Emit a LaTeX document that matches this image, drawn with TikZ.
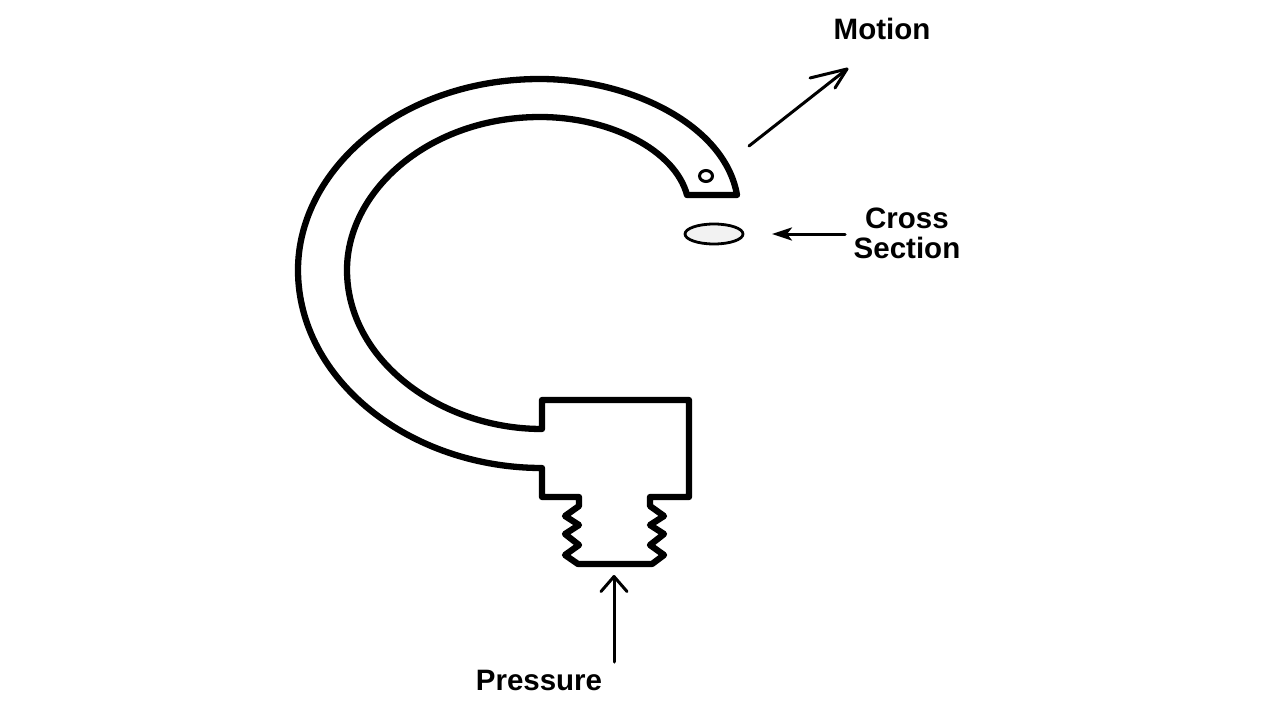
\documentclass[tikz,border=0pt]{standalone}
\usepackage{fontspec}
\setmainfont{Liberation Sans}
\usetikzlibrary{arrows.meta,shapes.geometric}
\tikzset{
  x=1pt,y=-1pt,
  part/.style={draw=black,line width=6.3pt,line join=round,line cap=round},
  pointer line/.style={draw=black,line width=3pt,line cap=round,line join=round},
  pointer/.style={pointer line,-{Straight Barb[length=15pt,width=26pt,line width=3pt,round]}},
  pointer small/.style={pointer line,-{Stealth[length=20pt,width=13pt,inset=5pt]}},
  caption/.style={font=\bfseries\fontsize{29.5}{30}\selectfont,align=center,inner sep=0pt,text=black},
  section oval/.style={ellipse,draw=black,line width=2.8pt,fill=black!5,minimum width=58pt,minimum height=20pt,inner sep=0pt},
  hole/.style={ellipse,draw=black,line width=3pt,minimum width=13pt,minimum height=11pt,inner sep=0pt},
}
\begin{document}
\begin{tikzpicture}
\useasboundingbox (0,0) rectangle (1280,720);
\draw[part] (737,195) -- (687,195)
  .. controls (675,150) and (610,117) .. (540,117)
  .. controls (430,117) and (347,190) .. (347,270)
  .. controls (347,360) and (440,429) .. (542,429)
  -- (542,400) -- (689,400) -- (689,497) -- (650,497) -- (650,506)
  -- (664,516) -- (650,525) -- (664,534) -- (650,545) -- (664,555) -- (652,564) -- (578,564)
  -- (565,555) -- (579,545) -- (565,534) -- (579,525) -- (565,516) -- (579,506) -- (579,497)
  -- (542,497) -- (542,468)
  .. controls (410,468) and (298,380) .. (298,270)
  .. controls (298,170) and (400,79) .. (540,79)
  .. controls (630,79) and (725,125) .. (737,195) -- cycle;
\node[hole] (pin) at (706,176) {};
\node[section oval] (oval) at (714,234) {};
\node[caption] (motion) at (882,29) {Motion};
\node[caption] (cross) at (907,218) {Cross};
\node[caption] (sect) at (907,248) {Section};
\node[caption] (pressure) at (539,680) {Pressure};
\coordinate (mA) at (749,146);
\coordinate (mB) at (847,69);
\coordinate (mL) at (810,78);
\coordinate (mR) at (835,88);
\coordinate (cA) at (845,234);
\coordinate (cB) at (772,234);
\coordinate (pA) at (614,662);
\coordinate (pB) at (614,575);
\draw[pointer line] (mA) -- (mB);
\draw[pointer line] (mL) -- (mB) -- (mR);
\draw[pointer small] (cA) -- (cB);
\draw[pointer] (pA) -- (pB);
\end{tikzpicture}
\end{document}
